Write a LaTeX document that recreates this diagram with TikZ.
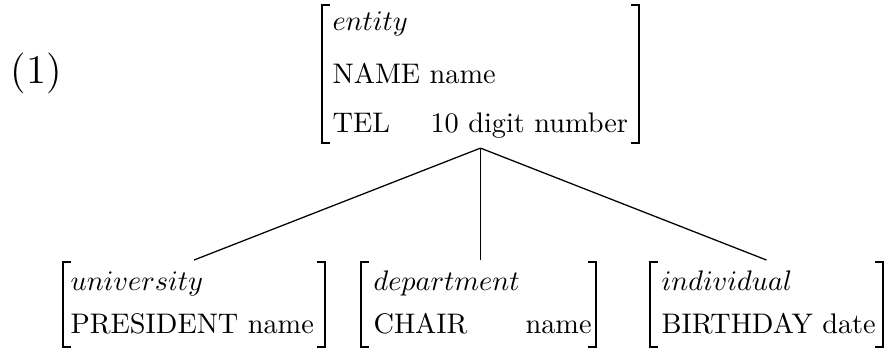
\documentclass[tikz,border=0pt]{standalone}
\usetikzlibrary{fit}
\begin{document}
\begin{tikzpicture}[x=0.3534pt,y=-0.3534pt,
  box/.style={inner sep=0pt, outer sep=0pt},
  txt/.style={anchor=base west, inner sep=0pt, font=\normalsize},
  brk/.style={line width=0.75pt},
  conn/.style={line width=0.45pt}]
\useasboundingbox (0,0) rectangle (885,350);
% bracket frames
\node[box, fit={(322,5) (639,143)}] (top) {};
\node[box, fit={(63,262) (325,347)}] (univ) {};
\node[box, fit={(361,262) (596,347)}] (dept) {};
\node[box, fit={(650,262) (883,347)}] (indiv) {};
\foreach \n in {top,univ,dept,indiv}{
  \draw[brk] ([xshift=2.8pt]\n.north west) -- (\n.north west) -- (\n.south west) -- ([xshift=2.8pt]\n.south west);
  \draw[brk] ([xshift=-2.8pt]\n.north east) -- (\n.north east) -- (\n.south east) -- ([xshift=-2.8pt]\n.south east);
}
% label
\node[txt, font=\Large] (num) at (10,83) {(1)};
% top contents
\node[txt] (ent) at (332,30) {$entity$};
\node[txt] (name) at (332,83) {NAME name};
\node[txt] (tel) at (332,132) {TEL};
\node[txt] (telv) at (430,132) {10 digit number};
% bottom contents
\node[txt] (uni) at (70,290) {$university$};
\node[txt] (pres) at (70,333) {PRESIDENT name};
\node[txt] (dep) at (373,290) {$department$};
\node[txt] (chair) at (373,333) {CHAIR};
\node[txt] (chairv) at (525,333) {name};
\node[txt] (ind) at (661,290) {$individual$};
\node[txt] (bday) at (661,333) {BIRTHDAY date};
% connectors
\coordinate (apex) at ([yshift=-1.8pt]top.south);
\draw[conn] (apex) -- ([yshift=0.7pt]univ.north);
\draw[conn] (apex) -- ([yshift=0.7pt]apex |- dept.north);
\draw[conn] (apex) -- ([yshift=0.7pt]indiv.north);
\end{tikzpicture}
\end{document}
